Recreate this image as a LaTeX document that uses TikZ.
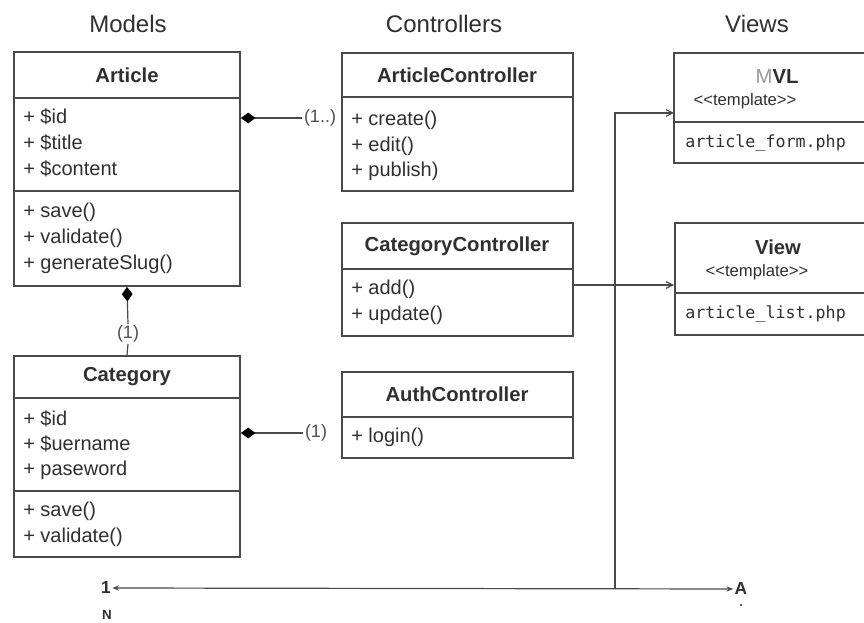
\documentclass[tikz,border=0pt]{standalone}
\usepackage{fontspec}
\setmainfont{Liberation Sans}
\setmonofont{DejaVu Sans Mono}
\usetikzlibrary{fit,arrows.meta}
\definecolor{ink}{HTML}{303030}
\definecolor{edge}{HTML}{4A4A4A}
\definecolor{pale}{HTML}{9A9A9A}
% stereotype brackets kept as two separate characters
\newcommand{\stlt}{<\kern0pt<}
\newcommand{\stgt}{>\kern0pt>}
\begin{document}
\begin{tikzpicture}[x=0.75pt,y=-0.75pt,
  box/.style={draw=edge, line width=1.3pt, inner sep=0pt},
  div/.style={draw=edge, line width=1.3pt},
  title/.style={font=\fontsize{18}{21}\selectfont, text=ink},
  hd/.style={font=\bfseries\fontsize{15.2}{18}\selectfont, text=ink},
  item/.style={anchor=west, inner sep=0pt, font=\fontsize{15}{17}\selectfont, text=ink},
  code/.style={anchor=west, inner sep=0pt, font=\ttfamily\fontsize{12.5}{15}\selectfont, text=ink},
  stereo/.style={font=\fontsize{12.5}{14}\selectfont, text=ink},
  mult/.style={inner sep=1pt, font=\fontsize{13.5}{15}\selectfont, text=ink!85},
  conn/.style={draw=edge, line width=0.9pt},
  comp/.style={conn, {Diamond[length=11pt,width=8pt,color=black]}-},
  flow/.style={conn, -{Straight Barb[length=5pt,width=5pt]}},
]
\useasboundingbox (0,0) rectangle (864,623);
\fill[white] (0,0) rectangle (864,623);
\begin{scope}
\clip (0,0) rectangle (864,623);

% column titles
\node[title] (tm) at (128,24) {Models};
\node[title] (tc) at (444,24) {Controllers};
\node[title] (tv) at (757,24) {Views};

% ---- Models ----
\node[box, fit={(14,52) (240,286)}] (art) {};
\draw[div] (14,98) -- (240,98);
\draw[div] (14,191) -- (240,191);
\node[hd] (artn) at (127,75) {Article};
\node[item] (a1) at (23,117) {+ \$id};
\node[item] (a2) at (23,143) {+ \$title};
\node[item] (a3) at (23,169) {+ \$content};
\node[item] (a4) at (23,212) {+ save()};
\node[item] (a5) at (23,238) {+ validate()};
\node[item] (a6) at (23,264) {+ generateSlug()};

\node[box, fit={(14,356) (240,557)}] (cat) {};
\draw[div] (14,398) -- (240,398);
\draw[div] (14,491) -- (240,491);
\node[hd] (catn) at (127,377) {Category};
\node[item] (c1) at (23,419) {+ \$id};
\node[item] (c2) at (23,444) {+ \$uername};
\node[item] (c3) at (23,470) {+ paseword};
\node[item] (c4) at (23,511) {+ save()};
\node[item] (c5) at (23,537) {+ validate()};

% ---- Controllers ----
\node[box, fit={(342,53) (573,191)}] (actl) {};
\draw[div] (342,97) -- (573,97);
\node[hd] (actln) at (457,75) {ArticleController};
\node[item] (ac1) at (351,120) {+ create()};
\node[item] (ac2) at (351,146) {+ edit()};
\node[item] (ac3) at (351,171) {+ publish)};

\node[box, fit={(342,223) (573,336)}] (cctl) {};
\draw[div] (342,269) -- (573,269);
\node[hd] (cctln) at (457,246) {CategoryController};
\node[item] (cc1) at (351,289) {+ add()};
\node[item] (cc2) at (351,315) {+ update()};

\node[box, fit={(342,372) (573,458)}] (uctl) {};
\draw[div] (342,417) -- (573,417);
\node[hd] (uctln) at (457,394) {AuthController};
\node[item] (uc1) at (351,437) {+ login()};

% ---- Views ----
\node[box, fit={(674,53) (890,163)}] (mvl) {};
\draw[div] (674,122) -- (890,122);
\node[hd] (mvln) at (777,77) {{\mdseries\color{pale}M}VL};
\node[stereo] (mvls) at (745,101) {\stlt template\stgt};
\node[code] (mvlf) at (685,143) {article\_form.php};

\node[box, fit={(675,223) (890,335)}] (view) {};
\draw[div] (675,293) -- (890,293);
\node[hd] (viewn) at (778,247) {View};
\node[stereo] (views) at (757,272) {\stlt template\stgt};
\node[code] (viewf) at (685,314) {article\_list.php};

% ---- composition links ----
\node[mult] (m1) at (320,118) {(1..)};
\draw[comp] (art.east |- m1) -- (m1.west);

\node[mult] (m2) at (128,334) {(1)};
\draw[comp] (art.south) -- (m2.north);
\draw[conn] (m2.south) -- (cat.north);

\node[mult] (m3) at (316,433) {(1)};
\draw[comp] (cat.east |- m3) -- (m3.west);

% ---- flows to the views ----
\coordinate (jn) at (615,588);
\coordinate (mvlin) at (674,113);
\draw[flow] (jn) |- (mvlin);
\coordinate (cout) at (573,285);
\draw[flow] (cout) -- (view.west |- cout);

% ---- bottom axis ----
\node[inner sep=1pt, font=\bfseries\fontsize{13}{15}\selectfont, text=ink] (one) at (106,588) {1};
\node[inner sep=1pt, font=\bfseries\fontsize{10}{12}\selectfont, text=ink] (nn) at (107,615) {N};
\node[inner sep=1pt, font=\bfseries\fontsize{13}{15}\selectfont, text=ink] (aa) at (741,589) {A};
\fill[ink] (741,605) circle (1.1);
\draw[conn, {Stealth[length=5pt,width=4pt]}-{Stealth[length=5pt,width=4pt]}] (one.east) -- (aa.west);
\end{scope}
\end{tikzpicture}
\end{document}
